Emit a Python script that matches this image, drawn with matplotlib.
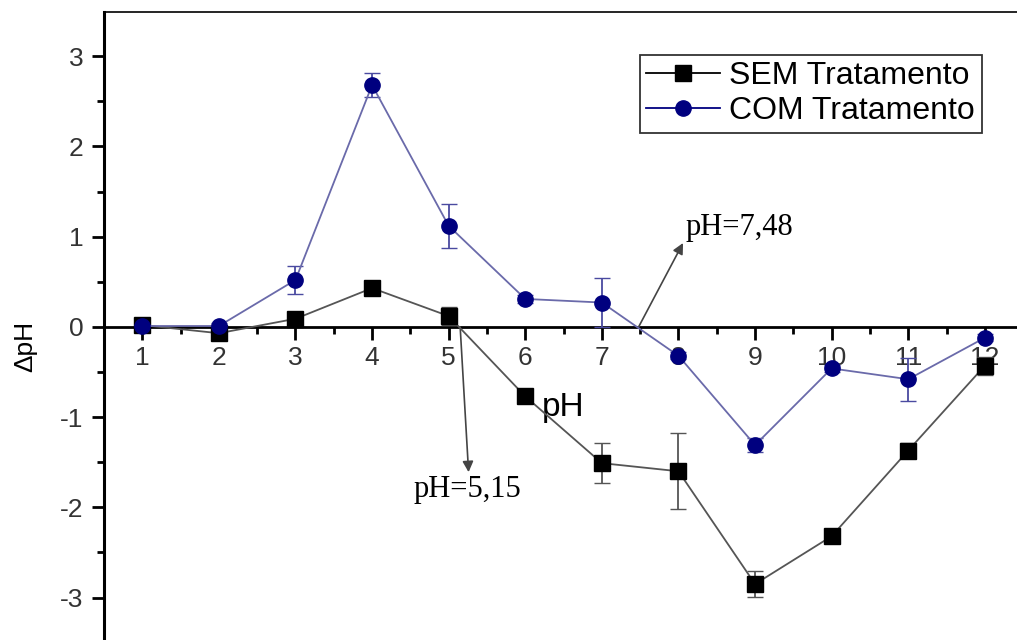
import numpy as np
import matplotlib
matplotlib.use("Agg")
import matplotlib.pyplot as plt
from matplotlib.ticker import MultipleLocator
from matplotlib.lines import Line2D

plt.rcParams["font.family"] = ["Liberation Sans", "DejaVu Sans"]
plt.rcParams["axes.unicode_minus"] = False

# pH values on the x axis
ph = [1, 2, 3, 4, 5, 6, 7, 8, 9, 10, 11, 12]

# delta pH without treatment (SEM) and its error
sem_y = [0.02, -0.07, 0.09, 0.43, 0.12, -0.77, -1.51, -1.60, -2.85, -2.32, -1.37, -0.43]
sem_err = [0.03, 0.03, 0.04, 0.04, 0.10, 0.05, 0.22, 0.42, 0.14, 0.04, 0.08, 0.10]

# delta pH with treatment (COM) and its error
com_y = [0.01, 0.01, 0.52, 2.68, 1.12, 0.31, 0.27, -0.32, -1.31, -0.46, -0.58, -0.12]
com_err = [0.03, 0.03, 0.15, 0.13, 0.24, 0.04, 0.27, 0.04, 0.08, 0.04, 0.24, 0.04]

fig = plt.figure(figsize=(10.17, 6.4), dpi=100)
ax = fig.add_axes([104/1017, 0.0, 1 - 104/1017, 1 - 12/640])

navy = "#00007f"
sem_line = "#555555"
com_line = "#6a6aaa"
ax.errorbar(ph, sem_y, yerr=sem_err, color=sem_line, ecolor=sem_line, lw=1.3,
            marker="s", ms=11, mfc="black", mec="black", capsize=6, elinewidth=1.3,
            zorder=3, clip_on=False)
ax.errorbar(ph, com_y, yerr=com_err, color=com_line, ecolor="#4a4aa0", lw=1.3,
            marker="o", ms=11, mfc=navy, mec=navy, capsize=6, elinewidth=1.3,
            zorder=3, clip_on=False)

ax.set_xlim(0.5, 12.42)
ax.set_ylim(-3.47, 3.49)

# x axis through zero
ax.spines["bottom"].set_position(("data", 0))
ax.spines["bottom"].set_linewidth(2)
ax.spines["left"].set_linewidth(2.2)
ax.spines["top"].set_linewidth(1.2)
ax.spines["right"].set_visible(False)

ax.xaxis.set_major_locator(MultipleLocator(1))
ax.xaxis.set_minor_locator(MultipleLocator(0.5))
ax.yaxis.set_major_locator(MultipleLocator(1))
ax.yaxis.set_minor_locator(MultipleLocator(0.5))
ax.tick_params(axis="both", which="major", direction="out", length=9, width=2,
               labelsize=19, labelcolor="#333333")
ax.tick_params(axis="both", which="minor", direction="out", length=5, width=2)
ax.tick_params(axis="x", which="major", pad=5)
ax.tick_params(axis="y", which="major", pad=6)

ax.set_ylabel("ΔpH", fontsize=19, va="center")
ax.yaxis.set_label_coords(-0.0865, 0.467)
ax.text(6.5, -0.89, "pH", fontsize=24, ha="center", va="center")

arrow = dict(arrowstyle="-|>", color="#444444", lw=1.2, mutation_scale=16, shrinkA=0, shrinkB=0)
ax.annotate("", xy=(8.06, 0.93), xytext=(7.48, 0.0), arrowprops=arrow)
ax.text(8.09, 1.10, "pH=7,48", fontsize=22, family="Liberation Serif", ha="left", va="center")
ax.annotate("", xy=(5.26, -1.61), xytext=(5.15, 0.0), arrowprops=arrow)
ax.text(5.24, -1.80, "pH=5,15", fontsize=22, family="Liberation Serif", ha="center", va="center")

handles = [Line2D([], [], color="black", lw=1.3, marker="s", ms=11, mfc="black", mec="black"),
           Line2D([], [], color=navy, lw=1.3, marker="o", ms=11, mfc=navy, mec=navy)]
leg = ax.legend(handles, ["SEM Tratamento", "COM Tratamento"],
                loc="upper left", bbox_to_anchor=(640/1017, 1 - 55/640),
                bbox_transform=fig.transFigure, prop={"size": 23},
                frameon=True, fancybox=False, handlelength=2.3, handletextpad=0.3,
                borderpad=0.2, labelspacing=0.15, borderaxespad=0, framealpha=1)
leg.get_frame().set_edgecolor("#333333")
leg.get_frame().set_linewidth(1.3)

fig.savefig("out.png", dpi=100)
